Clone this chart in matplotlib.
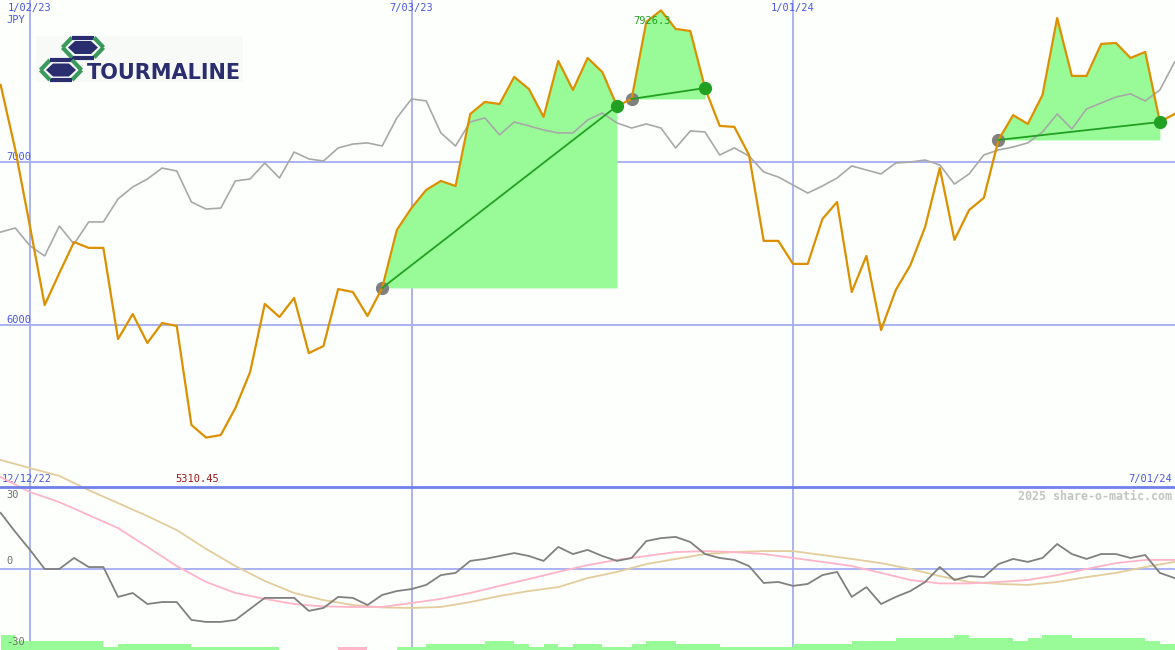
import matplotlib
matplotlib.use("Agg")
import matplotlib.pyplot as plt
import numpy as np
from matplotlib.patches import Polygon, Rectangle

# weekly closes, week 0 = 1/02/23 (weeks -2 .. 78)
weeks = np.arange(-2, 79)
price = [7470, 7072, 6602, 6122, 6318, 6508, 6472, 6472, 5914, 6067, 5890, 6012, 5994,
         5388, 5310.45, 5326, 5492, 5712, 6129, 6049, 6166, 5828, 5871, 6220, 6202, 6055,
         6227, 6582, 6717, 6827, 6882, 6851, 7292, 7366, 7353, 7519, 7445, 7274, 7617,
         7439, 7635, 7549, 7341, 7384, 7856, 7926.3, 7813, 7800, 7451, 7219, 7213, 7041,
         6515, 6515, 6374, 6374, 6649, 6753, 6202, 6423, 5969, 6214, 6367, 6600, 6961,
         6521, 6704, 6778, 7133, 7285, 7231, 7408, 7880, 7525, 7525, 7721, 7727, 7635,
         7672, 7243, 7292]
# relative index line (grey)
index_line = [6569, 6594, 6484, 6423, 6606, 6496, 6631, 6631, 6772, 6845, 6894, 6961, 6943,
              6753, 6710, 6716, 6882, 6894, 6992, 6900, 7059, 7017, 7004, 7084, 7108, 7115,
              7096, 7268, 7384, 7372, 7176, 7096, 7243, 7268, 7164, 7243, 7219, 7194, 7176,
              7176, 7255, 7298, 7237, 7206, 7231, 7206, 7084, 7188, 7182, 7041, 7084, 7035,
              6937, 6906, 6857, 6808, 6851, 6900, 6974, 6949, 6925, 6992, 6998, 7010, 6980,
              6863, 6925, 7041, 7072, 7090, 7115, 7182, 7292, 7200, 7323, 7359, 7396, 7415,
              7372, 7439, 7610]
# rising trend segments (start week, end week)
trends = [(24, 40), (41, 46), (66, 77)]

# lower panel oscillators
momentum = [22.7, 14.9, 7.6, -0.2, -0.2, 4.3, 0.6, 0.6, -11.6, -10.0, -14.5, -13.7, -13.7,
            -21.0, -21.8, -21.8, -21.0, -16.5, -12.0, -12.0, -12.0, -17.3, -16.1, -11.6,
            -12.0, -14.9, -10.8, -9.2, -8.4, -6.7, -2.7, -1.8, 3.1, 3.9, 5.1, 6.3, 5.1, 3.1,
            8.8, 5.9, 7.6, 5.1, 3.1, 4.3, 11.2, 12.4, 12.9, 10.8, 5.9, 4.3, 3.5, 1.0, -5.9,
            -5.5, -7.1, -6.3, -2.7, -1.4, -11.6, -7.6, -14.5, -11.6, -9.2, -5.5, 0.6, -4.7,
            -3.1, -3.5, 1.8, 3.9, 2.7, 4.3, 10.0, 5.9, 3.9, 5.9, 5.9, 4.3, 5.5, -1.8, -3.9]
slow_weeks = np.arange(-2, 79, 2)
fast_avg = [37.3, 31.2, 27.1, 21.8, 16.5, 8.8, 1.0, -5.5, -10.0, -12.4, -14.5, -15.5, -15.7,
            -15.7, -14.1, -12.4, -10.0, -7.1, -4.3, -1.4, 1.4, 3.5, 5.1, 6.7, 7.1, 6.7, 5.9,
            4.3, 2.7, 1.0, -1.8, -4.7, -6.1, -6.1, -5.5, -4.7, -2.7, -0.2, 2.2, 3.5, 3.5]
slow_avg = [44.3, 41.0, 37.8, 32.0, 26.7, 21.4, 15.7, 8.0, 1.0, -5.1, -10.0, -12.9, -14.9,
            -15.9, -16.1, -15.7, -13.7, -11.2, -9.2, -7.6, -3.9, -1.4, 1.8, 3.9, 5.9, 6.7,
            7.1, 7.1, 5.5, 3.9, 2.2, -0.2, -3.1, -5.5, -6.3, -6.7, -5.5, -3.5, -1.8, 0.6, 2.7]
# weekly volume bars (weeks -2 .. 77), negative = pink
vol_weeks = np.arange(-2, 78)
volume = [5, 3, 3, 3, 3, 3, 3, 1, 2, 2, 2, 2, 2, 1, 1, 1, 1, 1, 1, 0, 0, 0, 0, -1, -1, 0, 0,
          1, 1, 2, 2, 2, 2, 3, 3, 2, 1, 2, 1, 2, 2, 1, 1, 2, 3, 3, 2, 2, 2, 1, 1, 1, 1, 1,
          2, 2, 2, 2, 3, 3, 3, 4, 4, 4, 4, 5, 4, 4, 4, 3, 4, 5, 5, 4, 4, 4, 4, 4, 3, 2]

date_weeks = [0, 26, 52]
date_labels = ["1/02/23", "7/03/23", "1/01/24"]

BG = "#fcfffc"
GRID = "#a4aef2"
BLUE_TXT = "#4a58e6"
ORANGE = "#dc9000"
GREY = "#a8a8a8"
FILL = "#98fb98"
DKGREEN = "#22a022"
MONO = "DejaVu Sans Mono"

fig = plt.figure(figsize=(11.75, 6.5), dpi=100, facecolor=BG)
ax = fig.add_axes([0, 163 / 650, 1, 487 / 650])
axb = fig.add_axes([0, 0, 1, 163 / 650])
xlim = (-30 / 14.673, 78.03)

# ---- upper price panel ----
ax.set_xlim(*xlim)
ax.set_ylim(5008, 7990)
ax.axis("off")
for lvl in (7000, 6000):
    ax.axhline(lvl, color=GRID, lw=1.3, zorder=1)
for w in date_weeks:
    ax.axvline(w, color=GRID, lw=1.3, zorder=1)

price_arr = np.array(price)
for s, e in trends:
    i0, i1 = s + 2, e + 2
    ax.fill_between(weeks[i0:i1 + 1], price_arr[i0], price_arr[i0:i1 + 1],
                    color=FILL, lw=0, zorder=2)
ax.plot(weeks, index_line, color=GREY, lw=1.2, zorder=3)
for s, e in trends:
    ax.plot(s, price[s + 2], "o", color="#808080", ms=8.5, zorder=3.5)
ax.plot(weeks, price, color=ORANGE, lw=1.6, zorder=4)
for s, e in trends:
    ax.plot([s, e], [price[s + 2], price[e + 2]], color=DKGREEN, lw=1.3, zorder=5)
    ax.plot(e, price[e + 2], "o", color=DKGREEN, ms=8.5, zorder=6)

for w, lab in zip(date_weeks, date_labels):
    ax.text(w, 1 - 8 / 487, lab, transform=ax.get_xaxis_transform(), ha="center",
            va="center", fontsize=7.5, family=MONO, color=BLUE_TXT)
ax.text(6 / 1175, 1 - 20 / 487, "JPY", transform=ax.transAxes, ha="left", va="center",
        fontsize=7.5, family=MONO, color=BLUE_TXT)
for lvl in (7000, 6000):
    ax.text(6 / 1175, lvl, str(lvl), transform=ax.get_yaxis_transform(), ha="left",
            va="bottom", fontsize=7.5, family=MONO, color=BLUE_TXT)
ax.text(42.4, 7862, "7926.3", ha="center", va="center", fontsize=7.5, family=MONO,
        color=DKGREEN, zorder=7)
ax.text(11.4, 8 / 487, "5310.45", transform=ax.get_xaxis_transform(), ha="center",
        va="center", fontsize=7.5, family=MONO, color="#a01818")
ax.text(2 / 1175, 8 / 487, "12/12/22", transform=ax.transAxes, ha="left", va="center",
        fontsize=7.5, family=MONO, color=BLUE_TXT)
ax.text(1172 / 1175, 8 / 487, "7/01/24", transform=ax.transAxes, ha="right", va="center",
        fontsize=7.5, family=MONO, color=BLUE_TXT)

# ---- lower oscillator panel ----
ylo, yhi = -33.27, 33.27
axb.set_xlim(*xlim)
axb.set_ylim(ylo, yhi)
axb.axis("off")
axb.axhline(0, color=GRID, lw=1.3, zorder=1)
for w in date_weeks:
    axb.axvline(w, color=GRID, lw=1.3, zorder=1)
step = 3 / 2.45
heights = [abs(v) * step for v in volume]
colors = [FILL if v >= 0 else "#ffb6c8" for v in volume]
axb.bar(vol_weeks, heights, width=1.0, align="edge", bottom=ylo, color=colors, lw=0,
        zorder=2)
axb.plot(slow_weeks, slow_avg, color="#e4cc9c", lw=1.3, zorder=3, clip_on=False)
axb.plot(slow_weeks, fast_avg, color="#ffb4c8", lw=1.3, zorder=3, clip_on=False)
axb.plot(weeks, momentum, color="#808080", lw=1.3, zorder=4)
axb.axhline(yhi, color="#7080ea", lw=2, zorder=5, clip_on=False)

axb.text(6 / 1175, 30, "30", transform=axb.get_yaxis_transform(), ha="left", va="center",
         fontsize=7.5, family=MONO, color="#707070")
axb.text(6 / 1175, 1.2, "0", transform=axb.get_yaxis_transform(), ha="left", va="bottom",
         fontsize=7.5, family=MONO, color="#707070")
axb.text(6 / 1175, -30, "-30", transform=axb.get_yaxis_transform(), ha="left",
         va="center", fontsize=7.5, family=MONO, color="#707070")
axb.text(1172 / 1175, 1 - 9 / 163, "2025 share-o-matic.com", transform=axb.transAxes,
         ha="right", va="center", fontsize=8.4, family=MONO, fontweight="bold",
         color="#c4c4c4")

# ---- logo overlay (pixel coords) ----
ov = fig.add_axes([0, 0, 1, 1], zorder=10)
ov.set_xlim(0, 1175)
ov.set_ylim(650, 0)
ov.axis("off")
ov.patch.set_alpha(0)
ov.add_patch(Rectangle((36, 36), 207, 46, fc="#f8faf8", ec="none"))
NAVY = "#2b2e6e"
LGREEN = "#3a9a5c"


def hexagon(cx, cy, a, b, c):
    return [(cx - a, cy), (cx - c, cy - b), (cx + c, cy - b), (cx + a, cy),
            (cx + c, cy + b), (cx - c, cy + b)]


for cx, cy in ((83, 47.5), (61, 70)):
    outer = hexagon(cx, cy, 20.5, 10, 11)
    seg_cols = [LGREEN, NAVY, LGREEN, LGREEN, NAVY, LGREEN]
    for k in range(6):
        p, q = outer[k], outer[(k + 1) % 6]
        ov.plot([p[0], q[0]], [p[1], q[1]], color=seg_cols[k], lw=3.0,
                solid_capstyle="butt")
    ov.add_patch(Polygon(hexagon(cx, cy, 15, 6.5, 8), closed=True, fc=NAVY, ec="none"))
ov.text(87, 73, "TOURMALINE", ha="left", va="center", fontsize=15, fontweight="bold",
        color=NAVY, family="DejaVu Sans")

fig.savefig("out.png", dpi=100, facecolor=BG)
